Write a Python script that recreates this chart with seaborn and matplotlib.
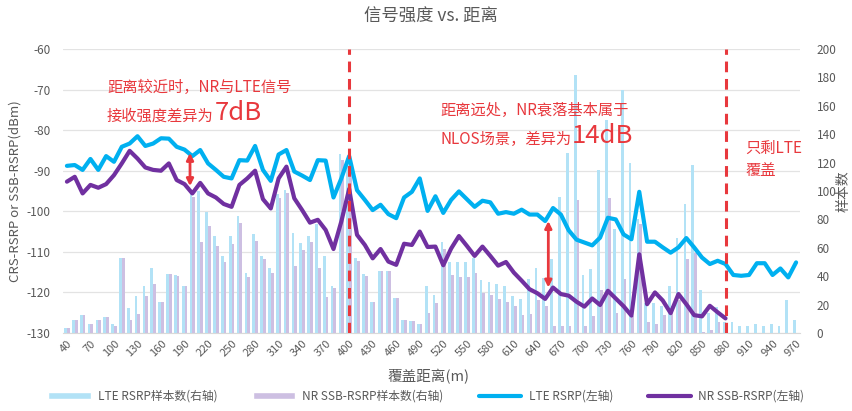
import numpy as np
import pandas as pd
import matplotlib
matplotlib.use("Agg")
import matplotlib.pyplot as plt
from matplotlib.patches import Patch
from matplotlib.lines import Line2D
import seaborn as sns

# categories: coverage distance (m)
distances = [str(d) for d in range(40, 980, 10)]

# LTE RSRP (left axis, dBm)
lte_rsrp = [
    -88.8, -88.6, -89.8, -87.1, -89.8, -86.4, -87.8, -84.1, -83.3, -81.5,
    -83.9, -83.3, -82.0, -82.1, -84.1, -84.8, -86.4, -84.9, -88.2, -89.8,
    -91.5, -91.9, -87.4, -87.5, -83.9, -89.8, -92.5, -86.0, -84.9, -90.2,
    -91.2, -92.3, -87.4, -87.5, -96.6, -91.9, -86.4, -94.8, -97.2, -99.7,
    -98.4, -100.7, -101.7, -96.6, -95.2, -91.9, -99.9, -96.3, -100.4, -97.2,
    -95.1, -97.0, -98.9, -97.4, -97.8, -100.6, -100.2, -100.6, -99.6, -100.8,
    -100.8, -102.4, -99.2, -100.8, -104.7, -107.0, -107.7, -108.4, -106.5, -101.6,
    -102.0, -105.7, -106.9, -95.2, -107.5, -107.5, -108.9, -110.2, -108.9, -106.6,
    -108.9, -111.4, -113.0, -112.2, -113.0, -115.7, -115.9, -115.7, -112.8, -112.8,
    -115.7, -114.1, -116.3, -112.6,
]

# NR SSB-RSRP (left axis, dBm), only up to 880 m
nr_rsrp = [
    -92.7, -91.5, -95.6, -93.5, -94.2, -93.3, -91.1, -88.2, -85.1, -87.0,
    -89.2, -89.8, -90.0, -88.2, -92.3, -93.3, -95.6, -93.0, -95.6, -96.6,
    -98.2, -98.9, -93.5, -91.9, -90.0, -97.0, -99.3, -91.9, -89.0, -96.8,
    -99.7, -102.8, -102.1, -104.6, -109.3, -102.5, -94.5, -105.8, -108.3, -111.6,
    -109.3, -112.4, -113.2, -108.0, -108.3, -105.0, -108.8, -108.7, -113.3, -109.2,
    -106.1, -108.5, -111.0, -108.7, -111.0, -113.4, -112.5, -115.1, -117.1, -119.2,
    -120.2, -121.6, -118.8, -120.4, -120.8, -122.3, -123.5, -121.5, -123.1, -119.6,
    -121.5, -123.4, -125.7, -110.6, -122.9, -120.0, -122.0, -125.1, -120.4, -122.9,
    -125.6, -125.9, -123.3, -124.9, -126.4,
]

# sample counts (right axis)
lte_samples = [
    3.5, 9.4, 12.6, 6.6, 9.4, 11.2, 6.6, 52.7, 17.6, 25.8,
    32.8, 45.7, 21.8, 41.7, 40.7, 32.8, 100, 100, 85, 68,
    54.5, 68.6, 82.7, 42.6, 70, 54.5, 45.6, 98, 101, 70.3,
    63.7, 68.4, 76.8, 54.3, 33.3, 126, 123, 52.7, 41.7, 21.5,
    43.8, 43.8, 24.6, 9.4, 8.2, 6.6, 33, 27, 64, 50,
    50, 50, 52.5, 37, 36, 34.5, 33, 26, 24, 38,
    46, 39, 52, 95.5, 127, 182, 41, 45, 115, 150,
    73, 171, 120, 80, 21, 21, 19, 33, 67, 91,
    118, 30, 14, 18, 8, 7.5, 5.2, 5.2, 6.6, 5.2,
    6.6, 4.7, 23.4, 9.4,
]
nr_samples = [
    3.5, 9.4, 12.6, 6.6, 9.4, 11.2, 5.2, 52.7, 9.4, 13.6,
    25.8, 34.7, 21.8, 41.7, 40.3, 32.8, 96, 64, 75, 61.3,
    50, 63, 77.7, 39.3, 64.7, 51.8, 42.6, 94.8, 98.4, 47.3,
    58.5, 64.4, 45.7, 25.3, 31.4, 122, 118, 50.4, 40.3, 21.5,
    43.8, 43.8, 24.6, 9.4, 8.2, 6.6, 14.3, 21, 59.3, 41,
    39.5, 39.6, 42, 28.5, 27, 24, 22, 19, 13, 13.5,
    23, 19, 5, 5, 5, 94, 4.7, 12, 30, 95,
    14, 38, 12, 77, 8, 6.5, 13, 19, 23, 52,
    56, 0.5, 2, 8, 4.7, 0, 0, 0, 0, 0,
    0, 0, 0, 0,
]

series_names = ["LTE RSRP样本数(右轴)", "NR SSB-RSRP样本数(右轴)",
                "LTE RSRP(左轴)", "NR SSB-RSRP(左轴)"]

LTE_BAR = "#B2E2F6"
NR_BAR = "#CDBFE2"
LTE_LINE = "#00B0F0"
NR_LINE = "#7030A0"
RED = "#E8383D"
GRAY = "#595959"

sns.set_style("white")
plt.rcParams["font.family"] = ["Noto Sans CJK SC", "DejaVu Sans"]
plt.rcParams["axes.unicode_minus"] = False

W, H = 852, 411
fig = plt.figure(figsize=(W / 100, H / 100), dpi=100)
ax = fig.add_axes([63 / W, 78 / H, 737 / W, 284 / H])
ax2 = ax.twinx()   # sample counts
ax3 = ax.twinx()   # lines drawn on top of bars

bars_df = pd.DataFrame({
    "距离": distances * 2,
    "样本数": lte_samples + nr_samples,
    "系列": [series_names[0]] * len(distances) + [series_names[1]] * len(distances),
})
sns.barplot(data=bars_df, x="距离", y="样本数", hue="系列", order=distances,
            hue_order=series_names[:2], palette=[LTE_BAR, NR_BAR], saturation=1,
            width=0.7, errorbar=None, legend=False, ax=ax2, linewidth=0)

pos = np.arange(len(distances))
sns.lineplot(x=pos, y=lte_rsrp, ax=ax3, color=LTE_LINE, linewidth=3,
             legend=False, solid_joinstyle="round")
sns.lineplot(x=pos[:len(nr_rsrp)], y=nr_rsrp, ax=ax3, color=NR_LINE, linewidth=3,
             legend=False, solid_joinstyle="round")

ax.set_xlim(-0.5, len(distances) - 0.5)
ax.set_ylim(-130, -60)
ax3.set_ylim(-130, -60)
ax2.set_ylim(0, 200)

ax.set_yticks(range(-130, -59, 10))
ax2.set_yticks(range(0, 201, 20))
ax3.set_yticks([])
ax.yaxis.grid(True, color="#E3E3E3", linewidth=0.9)
ax.xaxis.grid(False)
ax.set_xticks(pos[::3])
ax.set_xticklabels(distances[::3], rotation=45, ha="right", rotation_mode="anchor")

ax.tick_params(axis="y", length=0, labelsize=8.5, labelcolor=GRAY, pad=9)
ax.tick_params(axis="x", length=0, labelsize=8, labelcolor=GRAY, pad=4)
ax2.tick_params(axis="y", length=0, labelsize=8.5, labelcolor=GRAY, pad=12)

for a in (ax, ax2, ax3):
    for s in ("left", "right", "top"):
        a.spines[s].set_visible(False)
ax2.spines["bottom"].set_visible(False)
ax3.spines["bottom"].set_visible(False)
ax.spines["bottom"].set_color("#D9D9D9")

ax.set_xlabel("")
ax2.set_xlabel("")
ax.set_ylabel("CRS-RSRP or SSB-RSRP(dBm)", color=GRAY, fontsize=9.5)
ax.yaxis.set_label_coords(-0.056, 0.5)
ax2.set_ylabel("样本数", color=GRAY, fontsize=10, rotation=90)
ax2.yaxis.set_label_coords(1.05, 0.5)
ax3.set_ylabel("")

fig.text(431 / W, 1 - 17 / H, "信号强度 vs. 距离", ha="center", va="center",
         fontsize=12.5, color=GRAY)
fig.text(428 / W, 1 - 377 / H, "覆盖距离(m)", ha="center", va="center",
         fontsize=10.5, color=GRAY)

# boundaries and annotation arrows
for d in ("400", "880"):
    ax3.axvline(distances.index(d), color=RED, linewidth=2.2,
                linestyle=(0, (3.5, 2.2)))
arrow_spec = [(15.7, -85.6, -93.8), (61.4, -102.4, -118.8)]
for x, y_top, y_bot in arrow_spec:
    ax3.annotate("", xy=(x, y_top), xytext=(x, y_bot),
                 arrowprops=dict(arrowstyle="<|-|>", color=RED, lw=2,
                                 mutation_scale=10, shrinkA=0, shrinkB=0))

renderer = fig.canvas.get_renderer()


def red_text(x_px, y_px, s, size=11):
    return fig.text(x_px / W, 1 - y_px / H, s, ha="left", va="center",
                    fontsize=size, color=RED)


def big_after(t, y_px, s):
    bb = t.get_window_extent(renderer)
    return red_text(bb.x1 + 1, y_px, s, size=18.5)


red_text(107, 87, "距离较近时，NR与LTE信号")
t = red_text(107, 116, "接收强度差异为")
big_after(t, 113, "7dB")
red_text(440, 110, "距离远处，NR衰落基本属于")
t = red_text(440, 139, "NLOS场景，差异为")
big_after(t, 136, "14dB")
red_text(745, 148, "只剩LTE")
red_text(745, 170, "覆盖")

handles = [Patch(facecolor=LTE_BAR), Patch(facecolor=NR_BAR),
           Line2D([0], [0], color=LTE_LINE, lw=3),
           Line2D([0], [0], color=NR_LINE, lw=3)]
fig.legend(handles, series_names, loc="center", bbox_to_anchor=(0.5, 0.036),
           ncol=4, frameon=False, fontsize=8.5, handlelength=3.6, handleheight=0.6,
           handletextpad=0.6, columnspacing=3.0, labelcolor=GRAY)

fig.savefig("out.png", dpi=100)
